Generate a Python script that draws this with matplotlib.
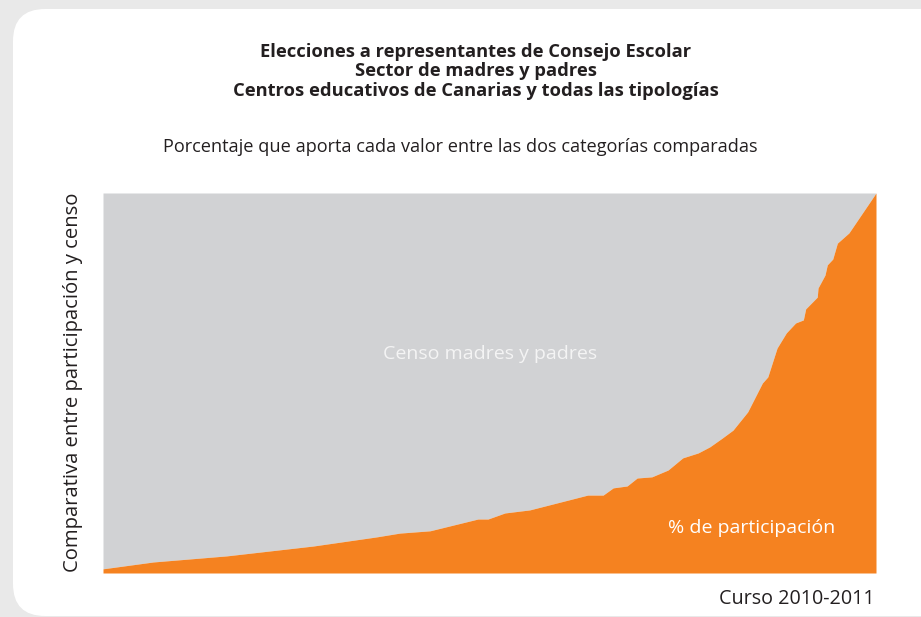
import matplotlib.pyplot as plt
from matplotlib.patches import FancyBboxPatch

# posicion relativa (0-100) a lo largo de los centros ordenados
posicion = [0, 6.5, 16.0, 27.2, 35.4, 38.4, 42.3, 48.5, 49.8, 52.0, 55.2,
            62.7, 64.7, 66.0, 67.8, 69.1, 71.0, 73.1, 75.0, 77.0, 78.5,
            80.1, 81.5, 83.4, 85.3, 86.0, 87.2, 88.4, 89.6, 90.6, 90.9,
            92.4, 92.5, 93.4, 93.7, 94.4, 95.0, 96.5, 100]
# porcentaje de participacion acumulado
participacion = [1.1, 2.9, 4.5, 7.1, 9.5, 10.5, 11.1, 14.2, 14.2, 15.8, 16.6,
                 20.5, 20.5, 22.4, 22.9, 25.0, 25.3, 27.1, 30.3, 31.6, 33.2,
                 35.5, 37.6, 42.4, 50.0, 51.6, 59.2, 63.2, 65.8, 66.6, 69.5,
                 72.6, 75.0, 78.4, 81.1, 82.6, 86.8, 89.5, 100]

titulo = ["Elecciones a representantes de Consejo Escolar",
          "Sector de madres y padres",
          "Centros educativos de Canarias y todas las tipologías"]
subtitulo = "Porcentaje que aporta cada valor entre las dos categorías comparadas"

plt.rcParams['font.family'] = ['Open Sans', 'DejaVu Sans']

W, H = 921, 617
fig = plt.figure(figsize=(W / 100, H / 100), dpi=100, facecolor='#e9e9e9')

# tarjeta blanca redondeada
card = FancyBboxPatch((13 / W, 1 / H), 1.2, (617 - 10) / H,
                      boxstyle="round,pad=0,rounding_size=0.035",
                      transform=fig.transFigure, facecolor='white',
                      edgecolor='none', mutation_aspect=W / H, zorder=-5)
fig.patches.append(card)

ax = fig.add_axes([103 / W, (H - 573) / H, (876 - 103) / W, (573 - 193) / H])
ax.set_zorder(2)
ax.fill_between(posicion, participacion, 100, color='#d1d2d4', linewidth=0)
ax.fill_between(posicion, 0, participacion, color='#f58220', linewidth=0)
ax.set_xlim(0, 100)
ax.set_ylim(0, 100)
ax.axis('off')

for i, linea in enumerate(titulo):
    fig.text(476 / W, 1 - (57 + i * 19.5) / H, linea, ha='center', va='baseline',
             fontsize=13.2, fontweight='bold', color='#231f20', zorder=3)
fig.text(460 / W, 1 - 147 / H, subtitulo, ha='center', va='center',
         fontsize=13.1, color='#231f20', zorder=3)

fig.text(73 / W, 1 - 382 / H, "Comparativa entre participación y censo",
         rotation=90, ha='center', va='center', fontsize=14.6, color='#231f20',
         zorder=3)
fig.text(875 / W, 1 - 604 / H, "Curso 2010-2011", ha='right', va='baseline',
         fontsize=14.2, color='#231f20', zorder=3)

ax.text(50.1, 56.3, "Censo madres y padres", ha='center', va='baseline',
        fontsize=14, color='#f4f4f4')
ax.text(94.7, 10.5, "% de participación", ha='right', va='baseline',
        fontsize=14, color='white')

fig.savefig('out.png', dpi=100, facecolor=fig.get_facecolor())
